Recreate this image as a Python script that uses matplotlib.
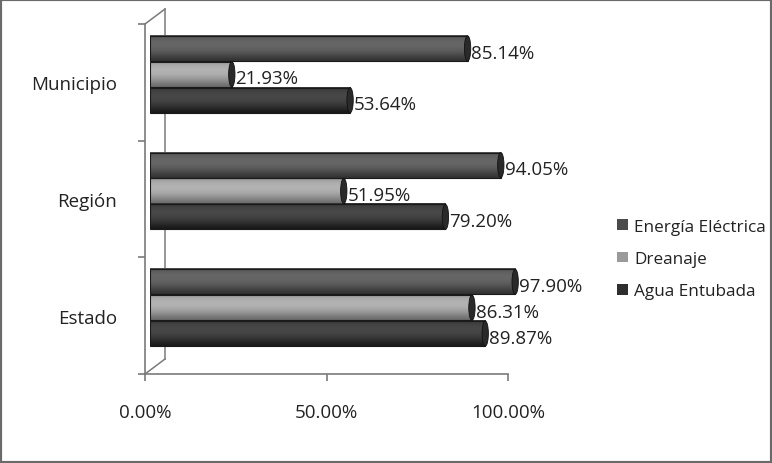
import numpy as np
import matplotlib
matplotlib.use("Agg")
import matplotlib.pyplot as plt
from matplotlib.patches import Rectangle, Ellipse, Patch
from matplotlib.lines import Line2D

plt.rcParams['font.family'] = ['Open Sans', 'DejaVu Sans']

categorias = ['Estado', 'Región', 'Municipio']
series = ['Energía Eléctrica', 'Dreanaje', 'Agua Entubada']
energia = [97.90, 94.05, 85.14]
dreanaje = [86.31, 51.95, 21.93]
agua = [89.87, 79.20, 53.64]
valores = [energia, dreanaje, agua]
xticks = [0, 50, 100]

# tonos (base, brillo) de cada cilindro
tonos = [(0.20, 0.40), (0.42, 0.70), (0.10, 0.28)]
leyenda_col = ['#4a4a4a', '#9a9a9a', '#2e2e2e']

W, H = 772, 464
fig = plt.figure(figsize=(W / 100, H / 100), dpi=100)
fig.patch.set_facecolor('white')

# eje frontal (marco, ticks y etiquetas)
ax = fig.add_axes([145 / W, (H - 375) / H, 363 / W, 350 / H])
# eje de barras (desplazado por el efecto 3D)
axb = fig.add_axes([150 / W, (H - 367) / H, 373 / W, 350 / H])
axb.set_facecolor('none')
axb.axis('off')

alto = 0.215
desp = [0.222, 0.0, -0.222]
t = np.linspace(0, 1, 60)
forma = np.clip(1 - ((t - 0.35) / 0.65) ** 2, 0, 1) ** 1.5

for s, (vals, (base, brillo)) in enumerate(zip(valores, tonos)):
    grad = base + (brillo - base) * forma
    img = np.dstack([grad, grad, grad]).reshape(len(t), 1, 3)
    for i, v in enumerate(vals):
        y = i + desp[s]
        axb.imshow(img, extent=(0, v, y - alto / 2, y + alto / 2),
                   aspect='auto', origin='upper', zorder=2, interpolation='bilinear')
        axb.add_patch(Rectangle((0, y - alto / 2), v, alto, fill=False,
                                edgecolor='#1a1a1a', lw=0.8, zorder=3))
        axb.add_patch(Ellipse((v, y), 1.7, alto, facecolor='#2a2a2a',
                              edgecolor='#111111', lw=0.6, zorder=4))
        axb.text(v + 1.0, y - 0.035, f'{v:.2f}%', fontsize=13.5, color='#222222',
                 va='center', ha='left', zorder=5)

axb.set_xlim(0, 100)
axb.set_ylim(-0.5, 2.5)

gris = '#7a7a7a'
ax.set_xlim(0, 100)
ax.set_ylim(-0.5, 2.5)
ax.set_facecolor('none')
for lado in ['top', 'right']:
    ax.spines[lado].set_visible(False)
for lado in ['left', 'bottom']:
    ax.spines[lado].set_color(gris)
    ax.spines[lado].set_linewidth(1.2)
ax.set_xticks(xticks)
ax.set_xticklabels([f'{x:.2f}%' for x in xticks], fontsize=13.5, color='#222222')
ax.tick_params(axis='x', length=5, width=1.2, color=gris, pad=16)
ax.set_yticks(range(len(categorias)))
ax.set_yticklabels(categorias, fontsize=13.5, color='#222222')
ax.set_yticks([-0.5, 0.5, 1.5, 2.5], minor=True)
ax.tick_params(axis='y', which='major', length=0, pad=20)
ax.tick_params(axis='y', which='minor', length=5, width=1.2, color=gris)
ax.set_zorder(0)
axb.set_zorder(1)

# pared trasera del efecto 3D
x0, y0, x1, y1 = 145 / W, (H - 375) / H, 145 / W, (H - 25) / H
dx, dy = 20 / W, 15 / H
for xs, ys in [([x0 + dx, x1 + dx], [y0 + dy, y1 + dy]),
               ([x1, x1 + dx], [y1, y1 + dy]),
               ([x0, x0 + dx], [y0, y0 + dy])]:
    fig.add_artist(Line2D(xs, ys, color=gris, lw=1.1, transform=fig.transFigure, zorder=0))

handles = [Patch(facecolor=c, edgecolor='none') for c in leyenda_col]
fig.legend(handles, series, loc='center left', bbox_to_anchor=(602 / W, 1 - 260 / H),
           frameon=False, fontsize=12.3, handlelength=0.6, handleheight=0.6,
           handletextpad=0.4, labelspacing=0.95, labelcolor='#222222')

# marco exterior
fig.add_artist(Rectangle((0, 0), 1, 1, transform=fig.transFigure, fill=False,
                         edgecolor='#6a6a6a', lw=3, zorder=10))

fig.savefig('out.png', dpi=100)
